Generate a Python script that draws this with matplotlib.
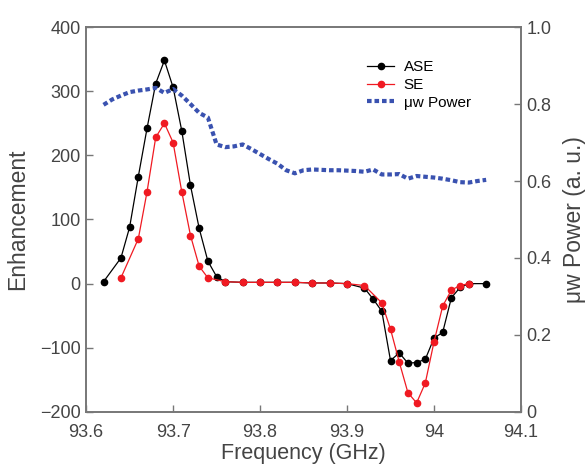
import matplotlib.pyplot as plt

plt.rcParams['font.family'] = ['Liberation Sans', 'DejaVu Sans']

# ASE enhancement
ase_freq = [93.62, 93.64, 93.65, 93.66, 93.67, 93.68, 93.69, 93.70, 93.71, 93.72,
            93.73, 93.74, 93.75, 93.76, 93.78, 93.80, 93.82, 93.84, 93.86, 93.88,
            93.90, 93.92, 93.93, 93.94, 93.95, 93.96, 93.97, 93.98, 93.99, 94.00,
            94.01, 94.02, 94.03, 94.04, 94.06]
ase = [3, 40, 88, 167, 242, 312, 348, 306, 238, 153,
       86, 35, 11, 3, 2, 2, 2, 2, 1, 1,
       0, -7, -24, -43, -120, -108, -124, -123, -118, -85,
       -76, -22, -6, 0, 0]

# SE enhancement
se_freq = [93.64, 93.66, 93.67, 93.68, 93.69, 93.70, 93.71, 93.72, 93.73, 93.74,
           93.76, 93.78, 93.80, 93.82, 93.84, 93.86, 93.88, 93.90, 93.92, 93.94,
           93.95, 93.96, 93.97, 93.98, 93.99, 94.00, 94.01, 94.02, 94.03, 94.04]
se = [9, 70, 143, 228, 250, 220, 143, 75, 27, 9,
      3, 2, 2, 2, 2, 1, 1, 0, -3, -30,
      -71, -122, -170, -186, -155, -91, -35, -10, -3, 0]

# microwave power
pw_freq = [93.62, 93.63, 93.64, 93.65, 93.66, 93.67, 93.68, 93.69, 93.70, 93.71,
           93.72, 93.73, 93.74, 93.75, 93.76, 93.77, 93.78, 93.79, 93.80, 93.81,
           93.82, 93.83, 93.84, 93.85, 93.86, 93.87, 93.88, 93.89, 93.90, 93.91,
           93.92, 93.93, 93.94, 93.95, 93.96, 93.97, 93.98, 93.99, 94.00, 94.01,
           94.02, 94.03, 94.04, 94.05, 94.06]
power = [0.798, 0.812, 0.822, 0.831, 0.835, 0.838, 0.842, 0.829, 0.839, 0.822,
         0.800, 0.777, 0.765, 0.695, 0.688, 0.690, 0.695, 0.683, 0.670, 0.657,
         0.645, 0.628, 0.620, 0.628, 0.630, 0.629, 0.628, 0.628, 0.627, 0.626,
         0.624, 0.630, 0.617, 0.617, 0.618, 0.606, 0.613, 0.611, 0.609, 0.606,
         0.602, 0.597, 0.596, 0.600, 0.603]

xticks = [93.6, 93.7, 93.8, 93.9, 94.0, 94.1]
xticklabels = ['93.6', '93.7', '93.8', '93.9', '94', '94.1']
yticks = [-200, -100, 0, 100, 200, 300, 400]
pticks = [0, 0.2, 0.4, 0.6, 0.8, 1.0]
pticklabels = ['0', '0.2', '0.4', '0.6', '0.8', '1.0']

spine_c = '#777777'
text_c = '#444444'

fig = plt.figure(figsize=(5.86, 4.67), dpi=100)
ax = fig.add_axes([0.147, 0.118, 0.742, 0.824])
ax2 = ax.twinx()

l_ase, = ax.plot(ase_freq, ase, '-o', color='black', lw=0.9, ms=4.5, label='ASE')
l_se, = ax.plot(se_freq, se, '-o', color='#f01a22', lw=0.9, ms=4.5, label='SE')
l_pw, = ax2.plot(pw_freq, power, color='#3a52b0', lw=3, ls=(0, (1.1, 0.7)),
                 label='μw Power')

ax.set_xlim(93.6, 94.1)
ax.set_ylim(-200, 400)
ax2.set_ylim(0, 1)

ax.set_xticks(xticks)
ax.set_xticklabels(xticklabels)
ax.set_yticks(yticks)
ax2.set_yticks(pticks)
ax2.set_yticklabels(pticklabels)

for a in (ax, ax2):
    for s in a.spines.values():
        s.set_color(spine_c)
        s.set_linewidth(1.2)
    a.tick_params(direction='in', length=5, width=1, color=spine_c,
                  labelcolor=text_c, labelsize=13, pad=4)
ax.tick_params(top=False, right=False)
ax.tick_params(axis='x', pad=9)
ax2.tick_params(left=False)

ax.set_xlabel('Frequency (GHz)', fontsize=15.5, color=text_c, labelpad=1)
ax.set_ylabel('Enhancement', fontsize=16.5, color=text_c, labelpad=8)
ax2.set_ylabel('μw Power (a. u.)', fontsize=16.5, color=text_c, labelpad=8)

ax.legend(handles=[l_ase, l_se, l_pw], loc='upper left',
          bbox_to_anchor=(0.614, 0.95), frameon=False, fontsize=11,
          handlelength=1.8, handletextpad=0.6, labelspacing=0.25)

fig.savefig('out.png', dpi=100)
